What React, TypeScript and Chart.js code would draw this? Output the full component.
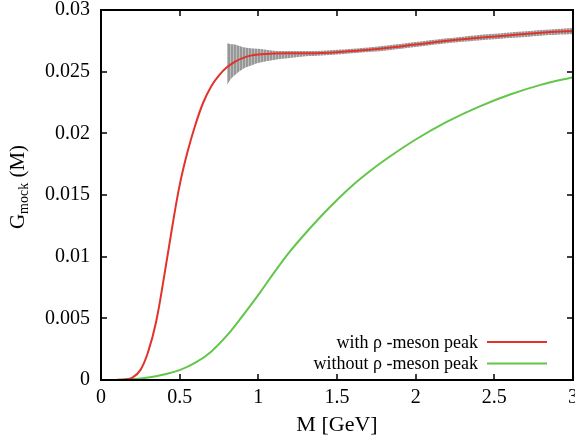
import React, { useEffect, useRef } from "react";
import { Chart, registerables } from "chart.js";

Chart.register(...registerables);

// ---- data ----
const massRed = [0, 0.1, 0.15, 0.2, 0.25, 0.3, 0.35, 0.4, 0.45, 0.5, 0.55, 0.6, 0.65, 0.7, 0.75, 0.8, 0.85, 0.9, 0.95, 1.0, 1.1, 1.2, 1.3, 1.4, 1.5, 1.6, 1.8, 2.0, 2.2, 2.4, 2.6, 2.8, 3.0];
const gRed = [0, 0.00001, 0.00004, 0.0002, 0.0008, 0.0023, 0.0047, 0.0083, 0.0122, 0.0158, 0.0185, 0.0207, 0.0225, 0.0238, 0.0247, 0.02535, 0.0258, 0.0261, 0.0263, 0.0264, 0.02648, 0.0265, 0.0265, 0.02652, 0.02658, 0.02668, 0.0269, 0.0272, 0.0275, 0.02775, 0.02795, 0.02815, 0.0283];

const massGreen = [0, 0.1, 0.2, 0.3, 0.4, 0.5, 0.6, 0.7, 0.8, 0.9, 1.0, 1.1, 1.2, 1.3, 1.4, 1.5, 1.6, 1.7, 1.8, 2.0, 2.2, 2.4, 2.6, 2.8, 3.0];
const gGreen = [0, 0.00001, 0.00006, 0.0002, 0.00045, 0.0008, 0.0014, 0.0023, 0.0036, 0.0052, 0.0069, 0.0087, 0.0104, 0.0119, 0.0133, 0.0146, 0.0158, 0.01685, 0.0178, 0.0195, 0.02095, 0.02215, 0.02315, 0.02395, 0.02455];

const bandMass = [0.8, 0.82, 0.85, 0.9, 0.95, 1.0, 1.1, 1.2, 1.3, 1.4, 1.6, 1.8, 2.0, 2.2, 2.4, 2.6, 2.8, 3.0];
const bandUpper = [0.0273, 0.02725, 0.0272, 0.027, 0.0269, 0.02685, 0.0267, 0.02668, 0.02668, 0.0267, 0.02685, 0.0271, 0.0274, 0.0277, 0.02798, 0.02818, 0.02838, 0.02855];
const bandLower = [0.0239, 0.0243, 0.0247, 0.0252, 0.02548, 0.0257, 0.02595, 0.0261, 0.02625, 0.02632, 0.0265, 0.0267, 0.027, 0.0273, 0.02752, 0.02772, 0.02792, 0.02805];

const xTicksMax = 3;
const yTicksMax = 0.03;
const legendLabels = ["with ρ -meson peak", "without ρ -meson peak"];
const xTitle = "M [GeV]";
const yTitleMain = "G";
const yTitleSub = "mock";
const yTitleRest = " (M)";

const RED = "#e2332a";
const GREEN = "#62c64a";
const SERIF = "'Liberation Serif', 'DejaVu Serif', serif";

const zip = (xs: number[], ys: number[]) => xs.map((x, i) => ({ x, y: ys[i] }));

export default function App() {
  const ref = useRef<HTMLCanvasElement | null>(null);

  useEffect(() => {
    const canvas = ref.current!;
    const pc = document.createElement("canvas");
    pc.width = 3;
    pc.height = 1;
    const pctx = pc.getContext("2d")!;
    pctx.fillStyle = "#979797";
    pctx.fillRect(0, 0, 2, 1);
    pctx.fillStyle = "#bdbdbd";
    pctx.fillRect(2, 0, 1, 1);
    const pattern = canvas.getContext("2d")!.createPattern(pc, "repeat")!;

    const decor = {
      id: "decor",
      afterDraw(chart: any) {
        const { ctx, chartArea: a, scales } = chart;
        const xs = scales.x;
        const ys = scales.y;
        ctx.save();
        // inward ticks on all sides
        ctx.strokeStyle = "#000";
        ctx.lineWidth = 1.5;
        const tl = 6;
        ctx.beginPath();
        xs.ticks.forEach((t: any) => {
          const px = Math.round(xs.getPixelForValue(t.value));
          ctx.moveTo(px, a.bottom);
          ctx.lineTo(px, a.bottom - tl);
          ctx.moveTo(px, a.top);
          ctx.lineTo(px, a.top + tl);
        });
        ys.ticks.forEach((t: any) => {
          const py = Math.round(ys.getPixelForValue(t.value));
          ctx.moveTo(a.left, py);
          ctx.lineTo(a.left + tl, py);
          ctx.moveTo(a.right, py);
          ctx.lineTo(a.right - tl, py);
        });
        ctx.stroke();
        // frame
        ctx.lineWidth = 2;
        ctx.strokeRect(a.left, a.top, a.right - a.left, a.bottom - a.top);

        // legend
        ctx.font = `18px ${SERIF}`;
        ctx.fillStyle = "#000";
        ctx.textAlign = "right";
        ctx.textBaseline = "middle";
        const colors = [RED, GREEN];
        legendLabels.forEach((lab, i) => {
          const y = a.bottom - 38 + i * 21.5;
          ctx.fillText(lab, a.right - 95, y + 1);
          ctx.strokeStyle = colors[i];
          ctx.lineWidth = 2;
          ctx.beginPath();
          ctx.moveTo(a.right - 86, y);
          ctx.lineTo(a.right - 26, y);
          ctx.stroke();
        });

        // y title with subscript
        const big = `21px ${SERIF}`;
        const small = `14px ${SERIF}`;
        ctx.font = big;
        const w1 = ctx.measureText(yTitleMain).width;
        const w3 = ctx.measureText(yTitleRest).width;
        ctx.font = small;
        const w2 = ctx.measureText(yTitleSub).width;
        const total = w1 + w2 + w3;
        ctx.translate(24, (a.top + a.bottom) / 2 - 8);
        ctx.rotate(-Math.PI / 2);
        ctx.textAlign = "left";
        ctx.textBaseline = "alphabetic";
        ctx.fillStyle = "#000";
        let x0 = -total / 2;
        ctx.font = big;
        ctx.fillText(yTitleMain, x0, 0);
        x0 += w1;
        ctx.font = small;
        ctx.fillText(yTitleSub, x0, 4);
        x0 += w2;
        ctx.font = big;
        ctx.fillText(yTitleRest, x0, 0);
        ctx.restore();
      },
    };

    const fmt = (v: any) => {
      const n = Number(Number(v).toFixed(4));
      return String(n);
    };

    const lineCommon = {
      pointRadius: 0,
      tension: 0.4,
      cubicInterpolationMode: "default",
    };

    const chart = new Chart(canvas, {
      type: "line",
      data: {
        datasets: [
          {
            ...lineCommon,
            label: legendLabels[0],
            data: zip(massRed, gRed),
            borderColor: RED,
            borderWidth: 2,
            fill: false,
            order: 0,
          },
          {
            ...lineCommon,
            label: legendLabels[1],
            data: zip(massGreen, gGreen),
            borderColor: GREEN,
            borderWidth: 2,
            fill: false,
            order: 1,
          },
          {
            ...lineCommon,
            label: "band lower",
            data: zip(bandMass, bandLower),
            borderColor: "rgba(0,0,0,0)",
            borderWidth: 0,
            fill: false,
            order: 3,
          },
          {
            ...lineCommon,
            label: "band upper",
            data: zip(bandMass, bandUpper),
            borderColor: "rgba(0,0,0,0)",
            borderWidth: 0,
            backgroundColor: pattern as any,
            fill: "-1",
            order: 2,
          },
        ],
      },
      options: {
        responsive: false,
        animation: false,
        devicePixelRatio: 1,
        layout: { padding: { top: 10, right: 2, left: 0, bottom: 0 } },
        plugins: {
          legend: { display: false },
          tooltip: { enabled: false },
        },
        scales: {
          x: {
            type: "linear",
            min: 0,
            max: xTicksMax,
            grid: { display: false, drawTicks: false },
            border: { display: false },
            ticks: {
              stepSize: 0.5,
              padding: 6,
              color: "#000",
              font: { family: SERIF, size: 20 },
              maxRotation: 0,
              callback: fmt,
            },
            title: {
              display: true,
              text: xTitle,
              color: "#000",
              font: { family: SERIF, size: 22 },
              padding: { top: 0, bottom: 3 },
            },
            afterFit(scale: any) {
              scale.height = 61;
              scale.paddingLeft = 0;
              scale.paddingRight = 0;
            },
          },
          y: {
            type: "linear",
            min: 0,
            max: yTicksMax,
            grid: { display: false, drawTicks: false },
            border: { display: false },
            ticks: {
              stepSize: 0.005,
              padding: 11,
              color: "#000",
              font: { family: SERIF, size: 20 },
              callback: fmt,
            },
            afterFit(scale: any) {
              scale.width = 101;
              scale.paddingTop = 0;
              scale.paddingBottom = 0;
            },
          },
        },
      },
      plugins: [decor],
    } as any);

    return () => chart.destroy();
  }, []);

  return (
    <div style={{ position: "fixed", left: 0, top: 0, width: 575, height: 441, overflow: "hidden", background: "#fff" }}>
      <canvas ref={ref} width={575} height={441} style={{ display: "block", width: 575, height: 441 }} />
    </div>
  );
}
